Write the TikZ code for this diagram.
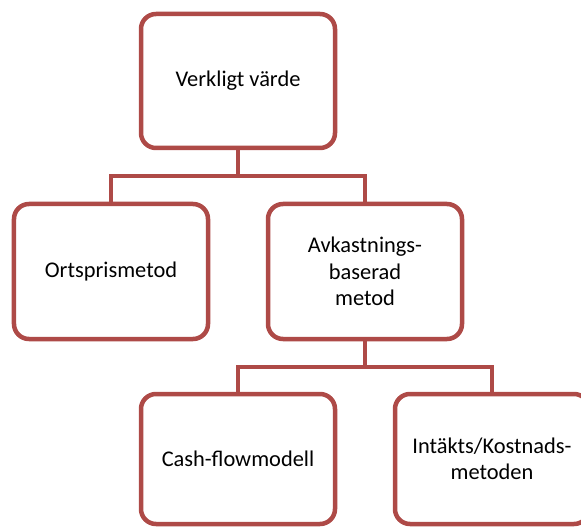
\documentclass[tikz,border=0pt]{standalone}
\usepackage{fontspec}
\setmainfont{Carlito}
\definecolor{boxred}{RGB}{174,74,71}
\begin{document}
\begin{tikzpicture}[x=1bp,y=-1bp,
  box/.style={draw=boxred, line width=4.5bp, rounded corners=15bp, fill=white,
    minimum width=194bp, minimum height=134bp, align=center, inner sep=0pt,
    font=\fontsize{22.5}{26.5}\selectfont},
  conn/.style={draw=boxred, line width=4.5bp}]
\useasboundingbox (0,0) rectangle (581,527);
\clip (0,0) rectangle (581,527);
\node[box] (top) at (238,81) {Verkligt värde};
\node[box, minimum height=135bp] (left) at (111,271.5) {Ortsprismetod};
\node[box, minimum height=135bp] (right) at (365,271.5) {Avkastnings-\\baserad\\metod};
\node[box, minimum height=130bp] (bl) at (238,459) {Cash-flowmodell};
\node[box, minimum height=130bp] (br) at (492,459) {Intäkts/Kostnads-\\metoden};
\coordinate (j1) at (top.south |- 0,176);
\coordinate (j2) at (right.south |- 0,367);
\draw[conn] (top.south) -- (j1);
\draw[conn] (j1) -| (left.north);
\draw[conn] (j1) -| (right.north);
\draw[conn] (right.south) -- (j2);
\draw[conn] (j2) -| (bl.north);
\draw[conn] (j2) -| (br.north);
\end{tikzpicture}
\end{document}
